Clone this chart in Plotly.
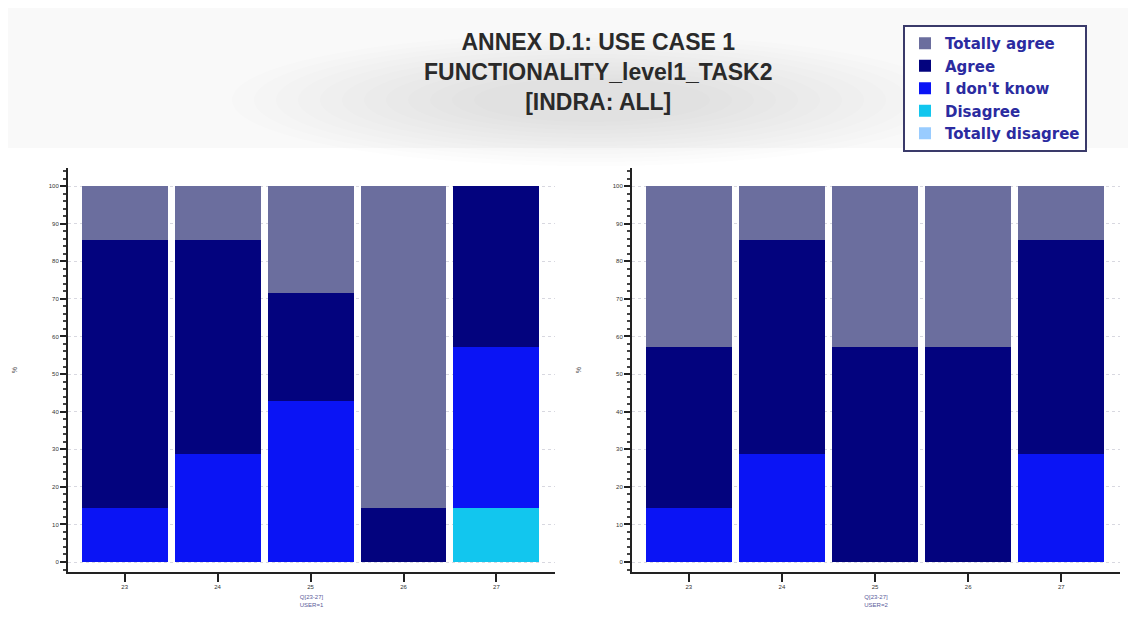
import plotly.graph_objects as go
from plotly.subplots import make_subplots

# survey answers, % of respondents per question
questions = ['23', '24', '25', '26', '27']
responses = ['Totally disagree', 'Disagree', "I don't know", 'Agree', 'Totally agree']
colors = ['#99CCFF', '#12C6EE', '#0A14F5', '#03037E', '#6B6E9E']
title_text = 'ANNEX D.1: USE CASE 1<br>FUNCTIONALITY_level1_TASK2<br>[INDRA: ALL]'

user1 = {
    'Totally disagree': [0, 0, 0, 0, 0],
    'Disagree': [0, 0, 0, 0, 14.3],
    "I don't know": [14.3, 28.6, 42.9, 0, 42.9],
    'Agree': [71.4, 57.1, 28.6, 14.3, 42.9],
    'Totally agree': [14.3, 14.3, 28.6, 85.7, 0],
}
user2 = {
    'Totally disagree': [0, 0, 0, 0, 0],
    'Disagree': [0, 0, 0, 0, 0],
    "I don't know": [14.3, 28.6, 0, 0, 28.6],
    'Agree': [42.9, 57.1, 57.1, 57.1, 57.1],
    'Totally agree': [42.9, 14.3, 42.9, 42.9, 14.3],
}

fig = make_subplots(rows=1, cols=2)

for col, data in [(1, user1), (2, user2)]:
    for name, color in zip(responses, colors):
        fig.add_trace(go.Bar(x=questions, y=data[name], name=name,
                             marker=dict(color=color, line=dict(width=0)),
                             showlegend=(col == 1)), row=1, col=col)

W, H = 1136, 635
OFF = 8  # page body margin

def px(x):
    return (x - OFF) / W

def py(y):
    return 1 - (y - OFF) / H

axis_font = dict(family='Liberation Sans', size=6, color='#333333')
for col, x0, x1, user in [(1, 68, 555, 'USER=1'), (2, 632, 1120, 'USER=2')]:
    fig.update_xaxes(domain=[px(x0), px(x1)], range=[-0.61, 4.63], showline=True,
                     linecolor='#222222', linewidth=2, ticks='outside', ticklen=8, tickwidth=2,
                     tickcolor='#222222', tickfont=axis_font, showgrid=False, zeroline=False,
                     title=dict(text='Q[23-27]<br>' + user, standoff=6,
                                font=dict(family='Liberation Sans', size=6, color='#5a5a9a')),
                     row=1, col=col)
    fig.update_yaxes(domain=[py(572), py(168)], range=[-2.66, 104.8],
                     tickvals=list(range(0, 101, 10)), showline=True, linecolor='#222222',
                     linewidth=2, ticks='outside', ticklen=6, tickwidth=2, tickcolor='#222222',
                     minor=dict(dtick=2, ticks='outside', ticklen=3, tickcolor='#444444'),
                     tickfont=axis_font, showgrid=True, gridcolor='#d8d8e0', griddash='dot',
                     gridwidth=1, zeroline=False,
                     title=dict(text='%', standoff=30, font=dict(family='Liberation Sans', size=7,
                                                                 color='#555555')),
                     row=1, col=col)

# light band across the top and a soft gray glow behind the title
fig.add_shape(type='rect', xref='paper', yref='paper', layer='below',
              x0=px(0), x1=px(1136), y0=py(148), y1=py(0),
              fillcolor='rgba(0,0,0,0.022)', line=dict(width=0))
for i in range(12):
    rx, ry = 360 - 22 * i, 66 - 4 * i
    fig.add_shape(type='circle', xref='paper', yref='paper', layer='below',
                  x0=px(592 - rx), x1=px(592 + rx), y0=py(100 + ry), y1=py(100 - ry),
                  fillcolor='rgba(100,100,100,0.016)', line=dict(width=0))

fig.add_annotation(text=title_text, xref='paper', yref='paper', x=px(598), y=py(72),
                   xanchor='center', yanchor='middle', showarrow=False, align='center',
                   font=dict(family='Liberation Sans', size=23, color='#2a2a2a',
                             weight='bold'))

fig.update_layout(
    width=W, height=H,
    barmode='stack', bargap=0.075,
    plot_bgcolor='white', paper_bgcolor='white',
    margin=dict(l=0, r=0, t=0, b=0),
    legend=dict(x=px(903), y=py(25), xanchor='left', yanchor='top',
                traceorder='reversed', bgcolor='white', bordercolor='#3a3a6a', borderwidth=2,
                font=dict(family='DejaVu Sans', size=15, color='#2b2ba0', weight='bold'),
                itemwidth=30, tracegroupgap=0),
)

fig.write_html('out.html')
